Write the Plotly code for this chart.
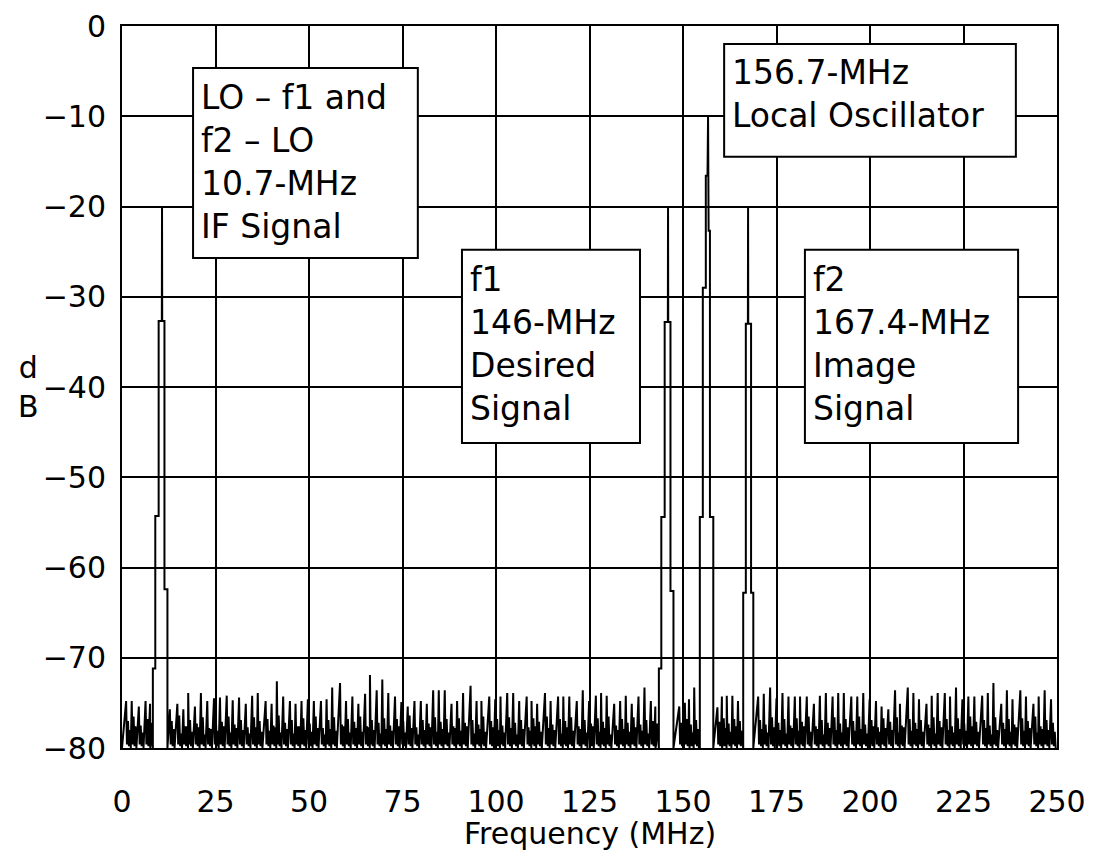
import plotly.graph_objects as go

# ---------------- data ----------------
X_TICKS = [0, 25, 50, 75, 100, 125, 150, 175, 200, 225, 250]
Y_TICKS = [0, -10, -20, -30, -40, -50, -60, -70, -80]

# noise-floor spikes: frequency (MHz) and top level (dB)
NOISE_F = [1.1, 2.6, 4.5, 6.3, 7.5,
           12.8, 14.8, 16.4, 17.7, 19.5, 21.1, 22.8, 24.6, 26.2, 28.0, 29.6, 31.3, 33.1, 34.8, 36.3,
           38.4, 40.0, 41.4, 43.1, 44.9, 46.4, 48.0, 49.7, 51.3, 53.2, 54.7, 56.2, 58.3, 59.9, 61.6,
           63.2, 65.0, 66.3, 68.1, 69.6, 71.2, 73.0, 74.7, 76.4, 78.2, 79.9, 81.5, 83.2, 84.7, 86.3,
           88.1, 89.6, 91.2, 93.2, 94.8, 96.1, 98.2, 99.8, 101.2, 103.0, 104.6, 106.2, 108.2, 109.5,
           111.0, 113.1, 114.6, 116.6, 118.0, 119.6, 121.6, 123.2, 124.9, 126.7, 128.1, 129.6, 131.6,
           133.2, 134.7, 136.3, 138.1, 139.7, 141.4, 142.6,
           149.0, 150.5, 151.6, 153.0,
           159.2, 160.4, 161.7, 163.2, 164.7,
           170.1, 171.6, 173.3, 175.0, 176.6, 178.2, 179.9, 181.3, 183.1, 185.0, 186.6, 188.2, 190.0,
           191.5, 193.0, 195.0, 196.6, 198.2, 199.9, 201.6, 203.1, 204.9, 206.7, 208.0, 210.1, 211.6,
           213.1, 215.1, 216.5, 218.1, 220.0, 221.4, 223.0, 224.7, 226.3, 227.9, 230.0, 231.5, 233.0,
           235.1, 236.6, 238.1, 240.2, 241.7, 243.7, 245.1, 246.7, 248.4]
NOISE_TOP = [-74.8, -74.8, -75.4, -74.8, -75.1,
             -75.7, -75.1, -75.7, -73.9, -75.4, -73.9, -74.8, -74.5, -74.4, -74.2, -74.7, -74.4, -75.1, -74.2, -73.9,
             -74.8, -75.1, -72.6, -74.3, -74.8, -75.1, -74.8, -74.6, -74.8, -74.8, -74.6, -73.3, -72.8, -74.8, -74.3,
             -75.1, -74.0, -71.9, -73.6, -72.4, -73.9, -74.3, -74.9, -75.4, -74.8, -74.8, -75.1, -73.6, -73.6, -73.6,
             -75.1, -74.8, -73.9, -73.1, -74.8, -74.8, -74.3, -74.6, -74.3, -73.9, -73.9, -74.8, -74.3, -74.8,
             -75.1, -73.9, -74.8, -74.3, -74.3, -74.3, -74.8, -73.6, -74.8, -74.2, -73.9, -74.2, -75.1,
             -74.8, -74.2, -75.1, -74.3, -73.3, -74.8, -75.4,
             -75.4, -75.0, -74.6, -73.3,
             -75.5, -74.3, -74.2, -74.2, -74.8,
             -74.3, -74.0, -73.3, -74.5, -73.9, -74.3, -74.3, -74.3, -74.3, -75.1, -74.2, -73.9, -74.3,
             -73.9, -73.9, -74.3, -74.3, -73.9, -74.6, -74.8, -75.4, -75.7, -73.6, -75.1, -73.3, -73.9,
             -74.6, -75.1, -74.2, -73.9, -73.9, -74.3, -73.3, -74.6, -74.3, -74.3, -74.2, -73.9, -72.8,
             -75.1, -73.6, -74.6, -73.6, -74.3, -75.1, -74.3, -73.6, -74.6]
# lower levels of the dense floor between spikes (dB)
NOISE_MID = [-77.0, -76.5, -77.5, -76.8, -77.2,
             -77.0, -76.4, -77.6, -76.9, -77.3, -76.6, -77.8, -76.8, -77.1, -76.5, -77.4, -76.9, -77.7, -76.6, -77.0,
             -76.8, -77.5, -76.4, -77.2, -76.9, -77.6, -76.7, -77.3, -76.5, -77.8, -76.9, -76.6, -77.4, -76.8, -77.1,
             -76.5, -77.6, -76.9, -77.2, -76.7, -77.5, -76.8, -77.0, -76.4, -77.7, -76.9, -77.3, -76.6, -77.1, -76.8,
             -77.6, -76.7, -77.2, -76.9, -77.4, -76.5, -77.0, -76.8, -77.5, -76.6, -77.2, -76.9, -77.7, -76.7,
             -77.1, -76.5, -77.4, -76.8, -77.0, -76.6, -77.6, -76.9, -77.3, -76.7, -77.1, -76.5, -77.5,
             -76.8, -77.2, -76.6, -77.4, -76.9, -77.0, -77.3,
             -77.2, -76.8, -77.4, -76.9,
             -77.1, -76.7, -77.3, -76.8, -77.0,
             -76.9, -77.4, -76.6, -77.2, -76.8, -77.5, -76.7, -77.1, -76.5, -77.6, -76.9, -77.2, -76.6,
             -77.3, -76.8, -77.0, -76.5, -77.4, -76.9, -77.7, -76.7, -77.1, -76.6, -77.5, -76.8, -77.2,
             -76.9, -77.4, -76.6, -77.0, -76.8, -77.6, -76.7, -77.3, -76.5, -77.1, -76.9, -77.5, -76.6,
             -77.2, -76.8, -77.4, -76.7, -77.0, -76.5, -77.6, -76.9, -77.2]
NOISE_MID2 = [-78.0, -77.6, -78.3, -77.8, -78.1,
              -77.9, -78.4, -77.6, -78.2, -77.7, -78.5, -77.9, -78.1, -77.6, -78.3, -77.8, -78.0, -78.4, -77.7, -78.2,
              -78.1, -77.7, -78.3, -77.9, -78.4, -77.6, -78.0, -78.2, -77.8, -78.5, -77.9, -78.1, -77.6, -78.3, -77.8,
              -78.2, -77.7, -78.0, -78.4, -77.9, -78.1, -77.6, -78.3, -77.8, -78.5, -78.0, -77.7, -78.2, -77.9, -78.3,
              -77.8, -78.1, -77.6, -78.4, -77.9, -78.2, -77.7, -78.0, -78.3, -77.8, -78.5, -77.9, -78.1, -77.6,
              -78.2, -77.8, -78.0, -78.4, -77.7, -78.1, -77.9, -78.3, -77.6, -78.2, -77.8, -78.5, -78.0,
              -77.9, -78.2, -77.7, -78.1, -78.4, -77.8, -78.0,
              -78.1, -77.7, -78.3, -77.9,
              -78.0, -77.8, -78.2, -77.6, -78.1,
              -77.9, -78.3, -77.7, -78.0, -78.4, -77.8, -78.1, -77.6, -78.2, -77.9, -78.5, -77.8, -78.0,
              -78.3, -77.7, -78.1, -77.9, -78.4, -77.6, -78.2, -77.8, -78.0, -78.3, -77.7, -78.1, -77.9,
              -78.2, -77.8, -78.4, -77.7, -78.0, -78.3, -77.9, -78.1, -77.6, -78.2, -77.8, -78.5, -78.0,
              -77.9, -78.2, -77.7, -78.1, -77.8, -78.3, -77.9, -78.0, -78.2]

# signal peaks, as (frequency MHz, level dB) staircase outlines
PEAK_IF = [(8.25, -80), (8.25, -71.2), (8.9, -71.2), (8.9, -54.3), (9.8, -54.3), (9.8, -32.7),
           (10.65, -32.7), (10.7, -20.0), (10.75, -32.7), (11.35, -32.7), (11.35, -62.4),
           (12.15, -62.4), (12.15, -80)]
PEAK_F1 = [(143.55, -80), (143.55, -71.2), (144.2, -71.2), (144.2, -54.4), (145.1, -54.4), (145.1, -32.8),
           (145.95, -32.8), (146.0, -20.0), (146.05, -32.8), (146.65, -32.8), (146.65, -62.6),
           (147.45, -62.6), (147.45, -80)]
PEAK_LO = [(154.5, -80), (154.5, -54.4), (155.3, -54.4), (155.3, -29.0), (156.1, -29.0), (156.1, -16.6),
           (156.55, -16.6), (156.7, -10.0), (156.85, -22.7), (157.2, -22.7), (157.2, -54.4),
           (158.1, -54.4), (158.1, -80)]
PEAK_F2 = [(166.1, -80), (166.1, -62.8), (166.8, -62.8), (166.8, -33.0), (167.35, -33.0), (167.4, -20.0),
           (167.45, -33.0), (168.2, -33.0), (168.2, -62.8), (168.8, -62.8), (168.8, -80)]
PEAKS = [PEAK_IF, PEAK_F1, PEAK_LO, PEAK_F2]

LABELS = [
    ("LO – f1 and<br>f2 – LO<br>10.7-MHz<br>IF Signal", (19.0, 79.1, -4.65, -25.7)),
    ("156.7-MHz<br>Local Oscillator", (161.0, 239.0, -2.0, -14.5)),
    ("f1<br>146-MHz<br>Desired<br>Signal", (90.9, 138.5, -24.8, -46.2)),
    ("f2<br>167.4-MHz<br>Image<br>Signal", (182.6, 239.6, -24.8, -46.2)),
]

# ---------------- build the trace ----------------
noise_pts = []
for f, t, m, m2 in zip(NOISE_F, NOISE_TOP, NOISE_MID, NOISE_MID2):
    noise_pts += [(f, t), (f + 0.22, -79.6), (f + 0.5, m), (f + 0.75, -79.8),
                  (f + 1.0, m2), (f + 1.25, -80.0)]
ranges = [(p[0][0] - 0.15, p[-1][0] + 0.15) for p in PEAKS]
noise_pts = [p for p in noise_pts if not any(a <= p[0] <= b for a, b in ranges) and p[0] <= 250]
noise_pts = [(0.0, -80.0)] + noise_pts

events = sorted([(x, y, None) for x, y in noise_pts] + [(pk[0][0], None, k) for k, pk in enumerate(PEAKS)],
                key=lambda q: q[0])
xs, ys = [], []
for x, y, k in events:
    if k is not None:
        for px, py in PEAKS[k]:
            xs.append(px)
            ys.append(py)
    else:
        xs.append(x)
        ys.append(y)

FONT = "DejaVu Sans"

fig = go.Figure()
fig.add_trace(go.Scatter(x=xs, y=ys, mode="lines", line=dict(color="black", width=2),
                         hoverinfo="skip"))

shapes = []
annotations = []
for i, (text, (x0, x1, y0, y1)) in enumerate(LABELS):
    shapes.append(dict(type="rect", xref="x", yref="y", x0=x0, x1=x1, y0=y0, y1=y1,
                       fillcolor="white", line=dict(color="black", width=2), layer="above"))
    annotations.append(dict(text=text, xref="x", yref="y", x=x0, y=y0, xanchor="left", yanchor="top",
                            xshift=6, yshift=-8 if i != 1 else -7, align="left", showarrow=False,
                            font=dict(family=FONT, size=33, color="black")))

annotations.append(dict(text="Frequency (MHz)", xref="paper", yref="paper", x=0.5, y=-0.119,
                        xanchor="center", yanchor="middle", showarrow=False,
                        font=dict(family=FONT, size=30, color="black")))
annotations.append(dict(text="d<br>B", xref="paper", yref="paper", x=-0.1005, y=0.50,
                        xanchor="center", yanchor="middle", showarrow=False,
                        font=dict(family=FONT, size=30, color="black")))

fig.update_layout(
    width=1094, height=857,
    margin=dict(l=114, r=45, t=18, b=117, autoexpand=False),
    plot_bgcolor="white", paper_bgcolor="white",
    showlegend=False,
    shapes=shapes, annotations=annotations,
    xaxis=dict(range=[0, 250], tickvals=X_TICKS, ticktext=[str(v) for v in X_TICKS],
               showgrid=True, gridcolor="black", gridwidth=2, zeroline=False,
               showline=True, linecolor="black", linewidth=2, mirror=True, ticks="",
               ticklabelstandoff=26,
               tickfont=dict(family=FONT, size=30, color="black")),
    yaxis=dict(range=[-80, 0], tickvals=Y_TICKS,
               showgrid=True, gridcolor="black", gridwidth=2, zeroline=False,
               showline=True, linecolor="black", linewidth=2, mirror=True, ticks="",
               ticklabelstandoff=8,
               tickfont=dict(family=FONT, size=30, color="black")),
)

fig.write_html("out.html")
